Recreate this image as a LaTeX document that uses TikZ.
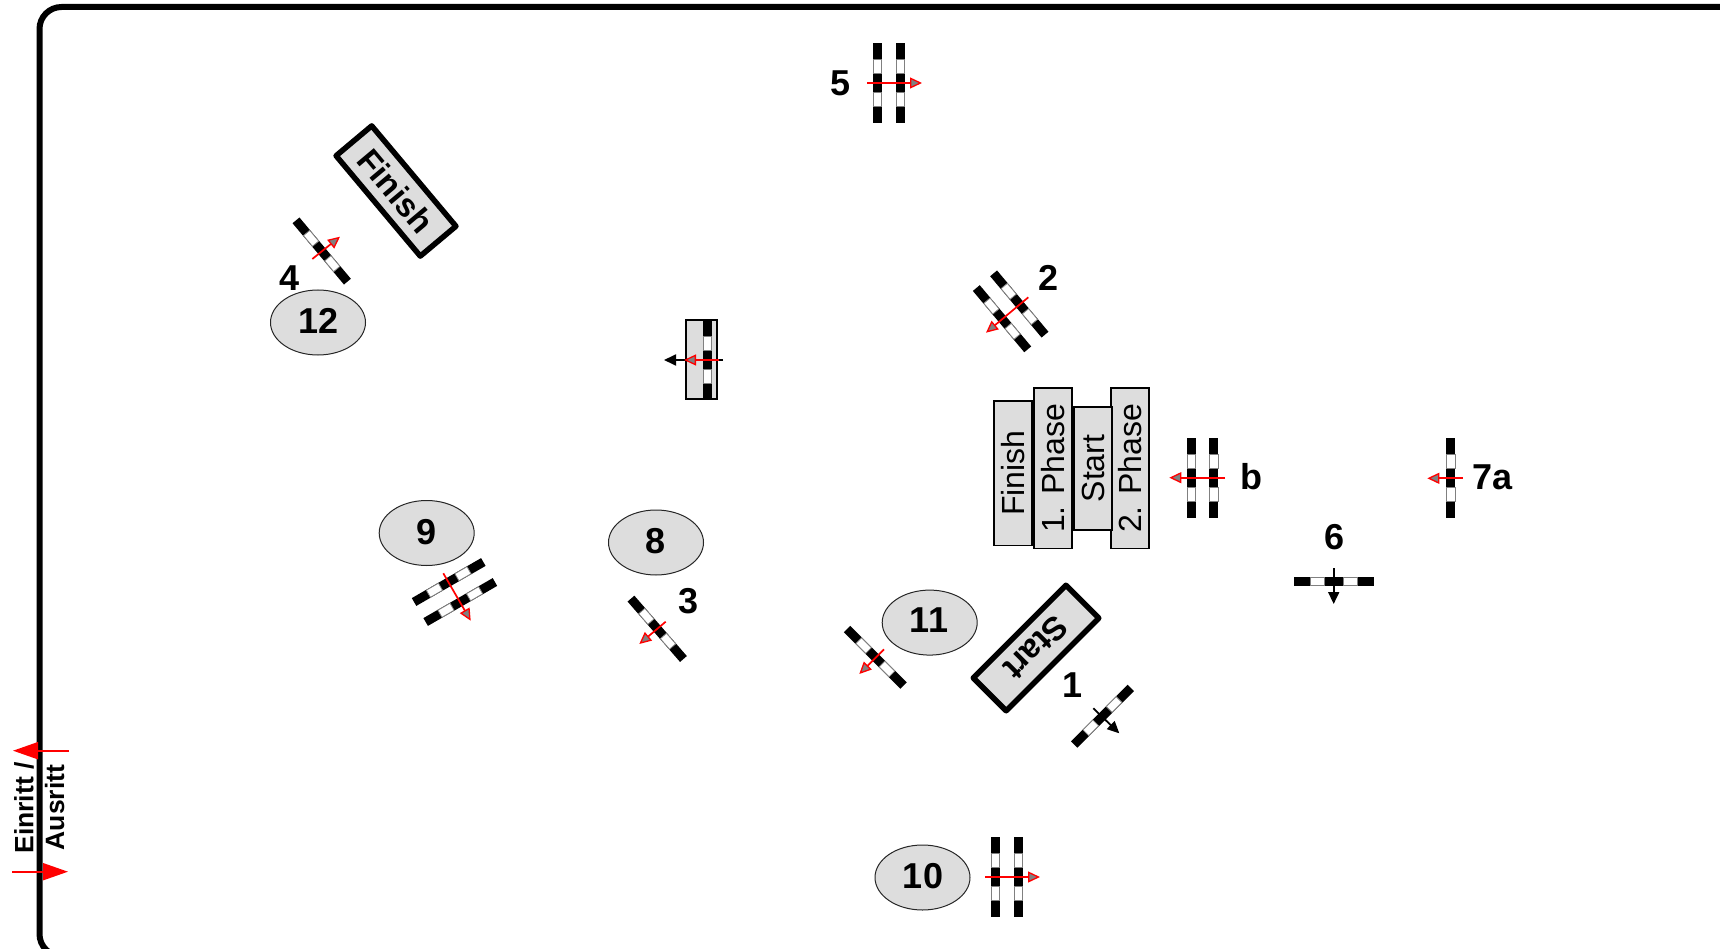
\documentclass[tikz,border=0pt]{standalone}
\usepackage{fontspec}
\setmainfont{Liberation Sans}
\usetikzlibrary{arrows.meta,shapes.geometric}
\definecolor{boxgray}{HTML}{DDDDDD}
\tikzset{
    num/.style={font=\fontsize{36}{40}\selectfont\bfseries, inner sep=0pt},
    place/.style={ellipse, draw=black!85, line width=1pt, fill=boxgray, minimum width=95pt, minimum height=65pt, inner sep=0pt},
    bigbox/.style={rectangle, draw, line width=5.5pt, line join=round, fill=boxgray, minimum width=131pt, minimum height=46.5pt, inner sep=0pt, font=\fontsize{33}{36}\selectfont\bfseries},
    phase/.style={rectangle, draw, line width=1.8pt, fill=boxgray, minimum height=38pt, inner sep=0pt, rotate=90, font=\fontsize{32}{34}\selectfont},
    redarrow/.style={red, line width=1.7pt, -{Triangle[length=12pt, width=11pt, fill=gray, line width=1.3pt]}},
    blackarrow/.style={black, line width=1.8pt, -{Triangle[length=12pt, width=11pt]}},
    entry/.style={red, line width=1.8pt, -{Triangle[length=25pt, width=17pt]}},
    side/.style={anchor=base, rotate=90, inner sep=0pt, font=\fontsize{26.5}{28}\selectfont\bfseries},
    pics/gatebar/.style={code={
        \fill[black] (-40,-4.5) rectangle (40,4.5);
        \filldraw[fill=white, draw=black!50, line width=.8pt] (-23.5,-4.1) rectangle (-9.5,4.1);
        \filldraw[fill=white, draw=black!50, line width=.8pt] (9.5,-4.1) rectangle (23.5,4.1);
    }}
}

\begin{document}
\begin{tikzpicture}[x=1pt, y=-1pt]
  \useasboundingbox (0,0) rectangle (1720,949);

  % border of the hall
  \coordinate (c1) at (1760,7);
  \coordinate (c2) at (1760,956);
  \draw [line width=6pt, rounded corners=22pt] (c1) -- (39.5,7) -- (39.5,956) -- (c2);

  % start, finish
  \node (finish) [bigbox, rotate=-50] at (396,191) {Finish};
  \node (start) [bigbox, rotate=225] at (1036,648) {Start};

  \node (pfinish) [phase, minimum width=144.5pt] at (1012.7,473.3) {Finish};
  \node (pone) [phase, minimum width=160.5pt] at (1053,468.3) {1. Phase};
  \node (ptwo) [phase, minimum width=160.5pt] at (1129.7,468.3) {2. Phase};
  \node (pstart) [phase, minimum width=123pt] at (1093.3,468.5) {Start};

  \node (rect) [rectangle, draw, line width=1.8pt, fill=boxgray, minimum width=31.5pt, minimum height=79pt, inner sep=0pt] at (701.5,359.5) {};

  % places
  \node (e8) [place] at (656,542.5) {};
  \node (e9) [place] at (426.7,533) {};
  \node (e10) [place] at (922.5,877.5) {};
  \node (e11) [place] at (929.7,622.6) {};
  \node (e12) [place] at (318,322.5) {};

  % numbers
  \node (n1) [num] at (1072.7,685) {1};
  \node (n2) [num] at (1048.7,278.3) {2};
  \node (n3) [num] at (688.8,601) {3};
  \node (n4) [num] at (289.8,277.7) {4};
  \node (n5) [num] at (840.5,83) {5};
  \node (n6) [num] at (1334,536.7) {6};
  \node (n7) [num] at (1492.5,477.3) {7a};
  \node (nb) [num] at (1251,477) {b};
  \node (n8) [num] at (656,541) {8};
  \node (n9) [num] at (427,532) {9};
  \node (n10) [num] at (923,876.5) {10};
  \node (n11) [num] at (929,620.5) {11};
  \node (n12) [num] at (318.5,321) {12};

  \node (ein) [side] at (33.3,808) {Einritt /};
  \node (aus) [side] at (64,807.5) {Ausritt};

  % gates
  \pic [rotate=-90] at (877.5,83) {gatebar};
  \pic [rotate=-90] at (900.7,83) {gatebar};
  \pic [rotate=-50] at (1019.3,304) {gatebar};
  \pic [rotate=-50] at (1002,318.7) {gatebar};
  \pic [rotate=-90] at (707,360) {gatebar};
  \pic [rotate=-90] at (1191.2,477.7) {gatebar};
  \pic [rotate=-90] at (1213.8,477.7) {gatebar};
  \pic [rotate=-90] at (1450.8,478.3) {gatebar};
  \pic at (1333.7,581) {gatebar};
  \pic [rotate=45] at (1102.5,716.2) {gatebar};
  \pic [rotate=-45] at (875.3,657.3) {gatebar};
  \pic [rotate=-49] at (657.2,628.8) {gatebar};
  \pic [rotate=-50] at (321.7,251) {gatebar};
  \pic [rotate=30] at (448.7,582) {gatebar};
  \pic [rotate=30] at (460.3,602) {gatebar};
  \pic [rotate=-90] at (995.7,877) {gatebar};
  \pic [rotate=-90] at (1018.5,877) {gatebar};

  % arrow ends
  \coordinate (a5) at (867,83); \coordinate (b5) at (922,83);
  \coordinate (a2) at (1028.3,297.3); \coordinate (b2) at (986,332.7);
  \coordinate (ab) at (1225,477.7); \coordinate (bb) at (1169.3,477.7);
  \coordinate (a7) at (1462.7,478.3); \coordinate (b7) at (1427.3,478.3);
  \coordinate (a6) at (1333.7,568.3); \coordinate (b6) at (1333.7,604);
  \coordinate (a1) at (1093.3,708.3); \coordinate (b1) at (1119.3,733.3);
  \coordinate (a11) at (884,649.3); \coordinate (b11) at (859.3,674);
  \coordinate (a3) at (665.7,621.7); \coordinate (b3) at (639.3,644);
  \coordinate (a4) at (312.3,259); \coordinate (b4) at (340,236.7);
  \coordinate (a9) at (443.3,573.3); \coordinate (b9) at (470.7,620.7);
  \coordinate (a10) at (985,877); \coordinate (b10) at (1040,877);
  \coordinate (ak) at (723,360); \coordinate (bk) at (664,360);
  \coordinate (ar) at (719,360); \coordinate (br) at (684,360);
  \coordinate (ain) at (69,750.7); \coordinate (bin) at (13,750.7);
  \coordinate (aout) at (12,871.7); \coordinate (bout) at (68,871.7);

  \draw (a5) edge [redarrow] (b5); \draw (a2) edge [redarrow] (b2);
  \draw (ab) edge [redarrow] (bb); \draw (a7) edge [redarrow] (b7);
  \draw (a11) edge [redarrow] (b11); \draw (a3) edge [redarrow] (b3);
  \draw (a4) edge [redarrow] (b4); \draw (a9) edge [redarrow] (b9);
  \draw (a10) edge [redarrow] (b10);

  \draw (a6) edge [blackarrow] (b6); \draw (a1) edge [blackarrow] (b1);
  \draw (ak) edge [blackarrow] (bk); \draw (ar) edge [redarrow] (br);

  \draw (ain) edge [entry] (bin); \draw (aout) edge [entry] (bout);

\end{tikzpicture}
\end{document}
